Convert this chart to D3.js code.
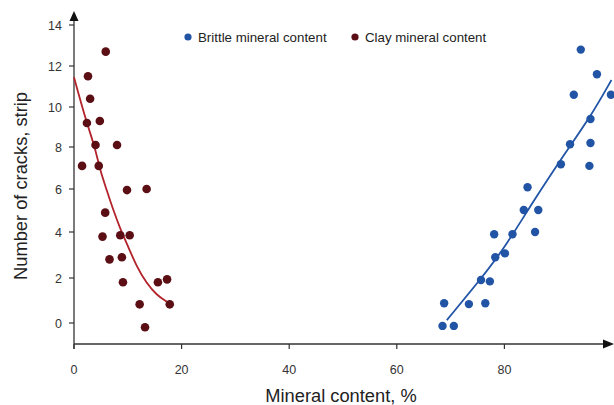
<!DOCTYPE html>
<html><head><meta charset="utf-8">
<script src="https://cdn.jsdelivr.net/npm/d3@7"></script>
<style>body{margin:0;background:#fff;}svg{display:block;font-family:"Liberation Sans",Arial,sans-serif;}</style>
</head><body><svg id="c" width="614" height="405"></svg>
<script>
// Brittle mineral content (x = %, y = number of cracks)
const brittleX = [94.2,97.2,92.9,99.8,96.0,92.2,96.0,95.8,90.5,84.3,83.6,86.3,85.7,78.1,81.5,78.3,80.1,75.65,77.3,68.8,73.4,76.45,68.5,70.6];
const brittleY = [12.8,11.6,10.6,10.6,9.4,8.14,8.2,7.1,7.18,6.08,5.02,5.02,4.0,3.9,3.9,2.9,3.07,1.91,1.85,0.88,0.84,0.88,-0.13,-0.13];
// Clay mineral content
const clayX = [5.9,2.6,3.0,2.4,4.8,4.0,8.0,1.5,4.6,9.85,13.5,5.8,5.3,8.6,10.35,6.6,8.9,9.1,15.6,17.3,12.2,17.8,13.2];
const clayY = [12.7,11.5,10.4,9.2,9.3,8.1,8.1,7.1,7.1,5.95,6.0,4.9,3.8,3.86,3.86,2.81,2.9,1.81,1.81,1.94,0.83,0.83,-0.19];
// Trend lines
const brittleTrendX = [69.3,75.6,80.0,84.8,90.3,96.0,99.9];
const brittleTrendY = [0.13,1.95,3.3,5.2,7.35,9.5,11.32];
const clayTrendX = [0,2.36,3.9,4.83,6.08,7.3,8.68,9.8,11.65,13.5,15.37,17.23];
const clayTrendY = [11.45,9.19,8.0,6.9,5.95,5.02,4.09,3.51,2.49,1.76,1.24,0.95];
const xTicks = [0,20,40,60,80];
const yTicks = [0,2,4,6,8,10,12,14];
const seriesNames = ["Brittle mineral content","Clay mineral content"];

const svg = d3.select("#c");
const blue = "#2254a6", dot2 = "#5b0f14", red = "#b3232b", axisCol = "#333";

const x = d3.scaleLinear().domain([0,100]).range([74,612]);
const y = d3.scaleLinear().domain(yTicks).range([323,278,232,189,147,107,66,25]);
const axisY = 344;

// X axis
const gx = svg.append("g").attr("transform",`translate(0,${axisY})`);
gx.append("line").attr("x1",x(0)).attr("x2",604).attr("stroke",axisCol).attr("stroke-width",1.3);
gx.append("path").attr("d","M603,-4.5L614,0L603,4.5Z").attr("fill","#111");
gx.selectAll("line.t").data(xTicks).join("line").attr("class","t")
  .attr("x1",d=>x(d)).attr("x2",d=>x(d)).attr("y1",0).attr("y2",5).attr("stroke",axisCol).attr("stroke-width",1.2);
gx.selectAll("text").data(xTicks).join("text").attr("x",d=>x(d)).attr("y",30)
  .attr("text-anchor","middle").attr("font-size",12.5).attr("fill",axisCol).text(d=>d);

// Y axis
const gy = svg.append("g").attr("transform",`translate(${x(0)},0)`);
gy.append("line").attr("y1",20).attr("y2",349).attr("stroke",axisCol).attr("stroke-width",1.3);
gy.append("path").attr("d","M-4.5,21L0,11L4.5,21Z").attr("fill","#111");
gy.selectAll("line.t").data(yTicks).join("line").attr("class","t")
  .attr("x1",-5).attr("x2",0).attr("y1",d=>y(d)).attr("y2",d=>y(d)).attr("stroke",axisCol).attr("stroke-width",1.2);
gy.selectAll("text").data(yTicks).join("text").attr("x",-12).attr("y",d=>y(d)+4.5)
  .attr("text-anchor","end").attr("font-size",12.5).attr("fill",axisCol).text(d=>d);

// Titles
svg.append("text").attr("x",341).attr("y",402).attr("text-anchor","middle").attr("font-size",18.3).attr("fill","#222").text("Mineral content, %");
svg.append("text").attr("transform","translate(27,186) rotate(-90)").attr("text-anchor","middle").attr("font-size",18.3).attr("fill","#222").text("Number of cracks, strip");

// Trend lines
const line = d3.line().x(d=>x(d[0])).y(d=>y(d[1])).curve(d3.curveBasis);
svg.append("path").attr("d",line(d3.zip(clayTrendX,clayTrendY))).attr("fill","none").attr("stroke",red).attr("stroke-width",1.8);
svg.append("path").attr("d",line(d3.zip(brittleTrendX,brittleTrendY))).attr("fill","none").attr("stroke",blue).attr("stroke-width",1.8);

// Dots
svg.append("g").selectAll("circle").data(d3.zip(clayX,clayY)).join("circle")
  .attr("cx",d=>x(d[0])).attr("cy",d=>y(d[1])).attr("r",4.3).attr("fill",dot2);
svg.append("g").selectAll("circle").data(d3.zip(brittleX,brittleY)).join("circle")
  .attr("cx",d=>x(d[0])).attr("cy",d=>y(d[1])).attr("r",4.2).attr("fill",blue);

// Legend
const leg = [{n:seriesNames[0],c:blue,x:188},{n:seriesNames[1],c:dot2,x:355}];
const gl = svg.append("g");
gl.selectAll("circle").data(leg).join("circle").attr("cx",d=>d.x).attr("cy",37).attr("r",3.6).attr("fill",d=>d.c);
gl.selectAll("text").data(leg).join("text").attr("x",d=>d.x+10).attr("y",41.5).attr("font-size",13.3).attr("fill","#222").text(d=>d.n);
</script></body></html>
